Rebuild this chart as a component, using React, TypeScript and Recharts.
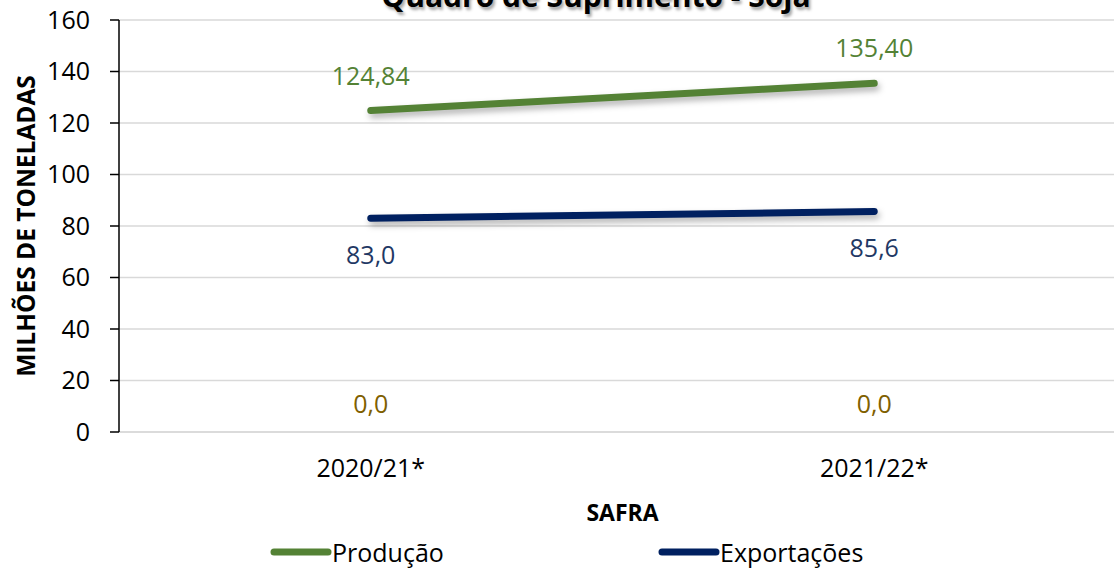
import { LineChart, Line, CartesianGrid, XAxis, YAxis, Legend, LabelList, Label } from "recharts";

const safras = ["2020/21*", "2021/22*"];
const producao = [124.84, 135.4];
const exportacoes = [83.0, 85.6];
const estoque = [0.0, 0.0];
const yTicks = [0, 20, 40, 60, 80, 100, 120, 140, 160];
const legendOrder = ["Produção", "Exportações"];

const data = safras.map((s, i) => ({
  safra: s,
  producao: producao[i],
  exportacoes: exportacoes[i],
  estoque: estoque[i],
}));

const FONT = "'Open Sans', 'Noto Sans', sans-serif";
const GREEN = "#548235";
const NAVY = "#002060";
const OLIVE = "#7F6000";

const fmt = (d: number) => (v: any) => Number(v).toFixed(d).replace(".", ",");

const legendX = [270, 658];

const LegendContent = (props: any) => {
  const items = (props.payload || [])
    .filter((p: any) => p.type !== "none")
    .sort((a: any, b: any) => legendOrder.indexOf(a.value) - legendOrder.indexOf(b.value));
  return (
    <div style={{ position: "relative", height: 30, width: 1140 }}>
      {items.map((p: any, i: number) => (
        <div
          key={p.value}
          style={{
            position: "absolute",
            left: legendX[i],
            top: -2,
            height: 30,
            display: "flex",
            alignItems: "center",
            fontFamily: FONT,
            fontSize: 25,
            color: "#000",
          }}
        >
          <svg width={62} height={12}>
            <line x1={4} y1={6} x2={58} y2={6} stroke={p.color} strokeWidth={7} strokeLinecap="round" />
          </svg>
          <span style={{ lineHeight: "30px" }}>{p.value}</span>
        </div>
      ))}
    </div>
  );
};

export default function App() {
  return (
    <div style={{ position: "absolute", left: 0, top: 0, width: 1114, height: 569, overflow: "hidden", background: "#fff" }}>
      <style>{`.recharts-line-curve{filter:drop-shadow(2px 4px 3px rgba(0,0,0,0.3));}`}</style>
      <div
        style={{
          position: "absolute",
          left: 0,
          top: -19,
          width: 1192,
          textAlign: "center",
          fontFamily: FONT,
          fontWeight: 700,
          fontSize: 30,
          lineHeight: "30px",
          color: "#000",
          textShadow: "2px 3px 3px rgba(0,0,0,0.35)",
        }}
      >
        Quadro de Suprimento - Soja
      </div>
      <LineChart
        width={1140}
        height={569}
        data={data}
        margin={{ top: 20, right: 14, left: 0, bottom: 12 }}
        style={{ fontFamily: FONT }}
      >
        <CartesianGrid vertical={false} stroke="#D9D9D9" strokeWidth={1.5} />
        <XAxis
          dataKey="safra"
          scale="band"
          height={95}
          tickLine={false}
          tickSize={0}
          tickMargin={27}
          axisLine={{ stroke: "#D9D9D9", strokeWidth: 1.5 }}
          tick={{ fill: "#000", fontSize: 25 }}
        >
          <Label value="SAFRA" position="insideBottom" offset={6} fill="#000" fontSize={23} fontWeight={700} />
        </XAxis>
        <YAxis
          width={119}
          domain={[0, 160]}
          ticks={yTicks}
          tickSize={9}
          tickMargin={20}
          axisLine={{ stroke: "#000", strokeWidth: 1.5 }}
          tickLine={{ stroke: "#000", strokeWidth: 1.5 }}
          tick={{ fill: "#000", fontSize: 25 }}
        >
          <Label
            content={() => (
              <text
                x={25}
                y={226}
                transform="rotate(-90 25 226)"
                textAnchor="middle"
                dominantBaseline="central"
                fontFamily={FONT}
                fontWeight={700}
                fontSize={24.5}
                fill="#000"
              >
                MILHÕES DE TONELADAS
              </text>
            )}
          />
        </YAxis>
        <Legend
          verticalAlign="bottom"
          height={30}
          wrapperStyle={{ left: 0, bottom: 0, width: 1140 }}
          content={<LegendContent />}
        />
        <Line
          type="linear"
          dataKey="producao"
          name="Produção"
          stroke={GREEN}
          strokeWidth={7}
          strokeLinecap="round"
          dot={false}
          activeDot={false}
          isAnimationActive={false}
        >
          <LabelList dataKey="producao" position="top" offset={26} fill={GREEN} fontSize={25} formatter={fmt(2)} />
        </Line>
        <Line
          type="linear"
          dataKey="exportacoes"
          name="Exportações"
          stroke={NAVY}
          strokeWidth={7}
          strokeLinecap="round"
          dot={false}
          activeDot={false}
          isAnimationActive={false}
        >
          <LabelList dataKey="exportacoes" position="bottom" offset={28} fill="#1F3864" fontSize={25} formatter={fmt(1)} />
        </Line>
        <Line
          type="linear"
          dataKey="estoque"
          name="Estoque"
          stroke="none"
          legendType="none"
          dot={false}
          activeDot={false}
          isAnimationActive={false}
        >
          <LabelList dataKey="estoque" position="top" offset={19} fill={OLIVE} fontSize={25} formatter={fmt(1)} />
        </Line>
      </LineChart>
    </div>
  );
}
